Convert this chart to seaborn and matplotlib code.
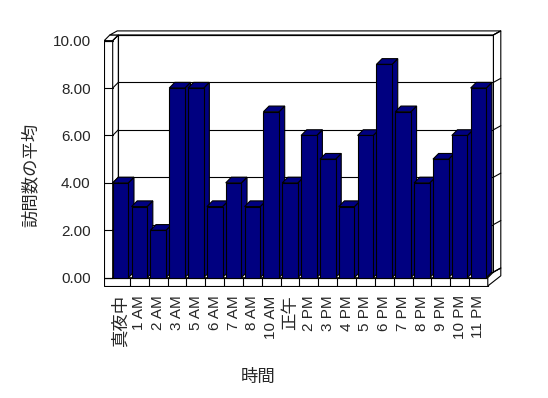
import matplotlib
matplotlib.use("Agg")
import matplotlib.pyplot as plt
from matplotlib.patches import Polygon
import pandas as pd
import seaborn as sns

# ── Data ───────────────────────────────────────────────────────────────────────
hours = ["真夜中", "1 AM", "2 AM", "3 AM", "5 AM", "6 AM", "7 AM", "8 AM", "10 AM", "正午",
         "2 PM", "3 PM", "4 PM", "5 PM", "6 PM", "7 PM", "8 PM", "9 PM", "10 PM", "11 PM"]
visits = [4, 3, 2, 8, 8, 3, 4, 3, 7, 4, 6, 5, 3, 6, 9, 7, 4, 5, 6, 8]
y_ticks = [0, 2, 4, 6, 8, 10]
x_title = "時間"
y_title = "訪問数の平均"

# ── Style ──────────────────────────────────────────────────────────────────────
NAVY = "#000080"
BAR_W = 0.83
DX, DY = 0.30, 0.24      # depth offset used for the fake 3-D look
TX, TY = 0.39, 0.17      # wall thickness
LW = 0.8

sns.set_style("white")
plt.rcParams["font.family"] = ["Liberation Sans", "Noto Sans CJK JP"]
plt.rcParams["font.size"] = 11

fig = plt.figure(figsize=(5.48, 3.98), dpi=100)
ax = fig.add_axes([0.1898, 0.2789, 0.7263, 0.6482])

df = pd.DataFrame({"hour": hours, "visits": visits})
sns.barplot(data=df, x="hour", y="visits", color=NAVY, saturation=1, width=BAR_W,
            edgecolor="black", linewidth=LW, ax=ax)
bars = list(ax.patches)

n = len(hours)
top = y_ticks[-1]

# ── Walls & floor ──────────────────────────────────────────────────────────────
XL = -BAR_W / 2 - 0.45
XLi = -BAR_W / 2
XBL = XLi + DX
XFR = n - 1 + BAR_W / 2 + 0.08
XBR = XFR + DX
XR = XBR + TX
YFB = -0.35


def face(pts, z=1):
    ax.add_patch(Polygon(pts, closed=True, facecolor="white", edgecolor="black",
                         lw=LW, zorder=z, joinstyle="miter"))


face([(XL, YFB), (XFR, YFB), (XFR, 0), (XL, 0)])
face([(XLi, 0), (XFR, 0), (XBR, DY), (XBL, DY)])
face([(XFR, YFB), (XFR, 0), (XBR, DY), (XR, DY + TY), (XR, YFB + 0.43)])
face([(XL, 0), (XLi, 0), (XLi, top), (XL, top)])
face([(XLi, 0), (XBL, DY), (XBL, top + DY), (XLi, top)])
face([(XL, top), (XLi, top), (XBL, top + DY), (XL + DX, top + DY)])
face([(XBL, DY), (XBR, DY), (XBR, top + DY), (XBL, top + DY)])
face([(XL + DX, top + DY), (XBR, top + DY), (XR, top + DY + TY), (XL + DX + TX, top + DY + TY)])
face([(XBR, DY), (XR, DY + TY), (XR, top + DY + TY), (XBR, top + DY)])

for v in y_ticks:
    ax.plot([XL, XLi], [v, v], color="black", lw=LW, zorder=2)
    ax.plot([XLi, XBL], [v, v + DY], color="black", lw=LW, zorder=2)
    ax.plot([XBL, XBR], [v + DY, v + DY], color="black", lw=LW, zorder=2)
    ax.plot([XBR, XR], [v + DY, v + DY + TY], color="black", lw=LW, zorder=2)

for k in range(n - 1):
    ax.plot([k + 0.5, k + 0.5], [YFB, 0], color="black", lw=LW, zorder=2)

# ── 3-D bar faces ──────────────────────────────────────────────────────────────
for i, (v, bar) in enumerate(zip(visits, bars)):
    x0 = bar.get_x()
    x1 = x0 + bar.get_width()
    ax.add_patch(Polygon([(x1, 0), (x1, v), (x1 + DX, v + DY), (x1 + DX, DY)],
                         facecolor=NAVY, edgecolor="black", lw=LW, zorder=3 + 3 * i))
    ax.add_patch(Polygon([(x0, v), (x1, v), (x1 + DX, v + DY), (x0 + DX, v + DY)],
                         facecolor=NAVY, edgecolor="black", lw=LW, zorder=4 + 3 * i))
    bar.set_zorder(5 + 3 * i)

# ── Axes ───────────────────────────────────────────────────────────────────────
ax.set_xlim(-0.876, 20.25)
ax.set_ylim(-0.392, 10.49)
for s in ax.spines.values():
    s.set_visible(False)
ax.grid(False)
ax.set_facecolor("none")

ax.set_yticks(y_ticks)
ax.set_yticklabels([f"{t:.2f}" for t in y_ticks])
ax.tick_params(axis="y", length=0, pad=9.6)
ax.set_xticks(range(n))
ax.set_xticklabels(hours, rotation=90)
ax.tick_params(axis="x", length=0, pad=6)
# the kanji labels are drawn a touch larger than the latin ones
for lab in ax.get_xticklabels():
    if not lab.get_text().isascii():
        lab.set_fontsize(12.5)

ax.set_xlabel(x_title, fontsize=12.5)
ax.xaxis.set_label_coords(0.388, -0.316)
ax.set_ylabel(y_title, fontsize=12.5)
ax.yaxis.set_label_coords(-0.165, 0.434)

fig.savefig("out.png", dpi=100)
